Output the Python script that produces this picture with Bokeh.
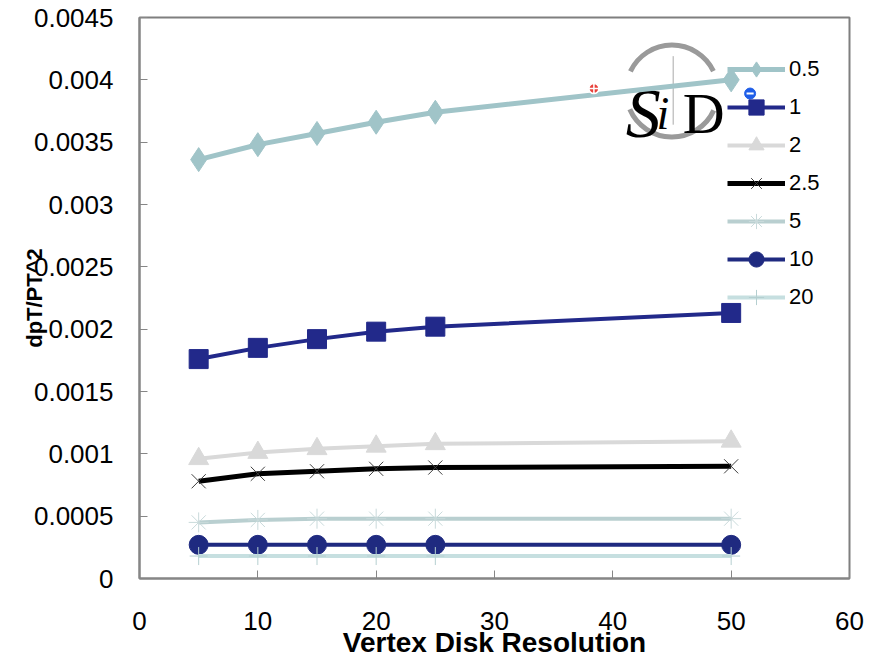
from bokeh.plotting import figure
from bokeh.models import FixedTicker, NumeralTickFormatter, Legend, LegendItem, Range1d
from bokeh.core.properties import value
from bokeh.embed import file_html
from bokeh.resources import INLINE

# ---- data ----
resolution = [5, 10, 15, 20, 25, 50]
series_names = ["0.5", "1", "2", "2.5", "5", "10", "20"]
s_05 = [0.00336, 0.00348, 0.00357, 0.00366, 0.00374, 0.00400]
s_1 = [0.00176, 0.00185, 0.00192, 0.00198, 0.00202, 0.00213]
s_2 = [0.00096, 0.00101, 0.00104, 0.00106, 0.00108, 0.00110]
s_25 = [0.00078, 0.00084, 0.00086, 0.00088, 0.00089, 0.00090]
s_5 = [0.00045, 0.00047, 0.00048, 0.00048, 0.00048, 0.00048]
s_10 = [0.00027, 0.00027, 0.00027, 0.00027, 0.00027, 0.00027]
s_20 = [0.00018, 0.00018, 0.00018, 0.00018, 0.00018, 0.00018]
x_ticks = [0, 10, 20, 30, 40, 50, 60]
y_ticks = [0, 0.0005, 0.001, 0.0015, 0.002, 0.0025, 0.003, 0.0035, 0.004, 0.0045]

p = figure(width=876, height=661, output_backend="svg", toolbar_location=None,
           x_range=Range1d(0, 60), y_range=Range1d(0, 0.0045),
           min_border_left=139, min_border_right=27, min_border_top=17, min_border_bottom=83)
p.background_fill_color = "white"
p.border_fill_color = "white"
p.grid.visible = False
p.outline_line_color = "#7f7f7f"
p.outline_line_width = 2

FONT = "Liberation Sans"

p.xaxis.ticker = FixedTicker(ticks=x_ticks)
p.yaxis.ticker = FixedTicker(ticks=y_ticks)
p.yaxis.formatter = NumeralTickFormatter(format="0.[0000]")
for ax in (p.xaxis, p.yaxis):
    ax.axis_line_color = "#868686"
    ax.axis_line_width = 2
    ax.major_tick_in = 8
    ax.major_tick_out = 0
    ax.major_tick_line_color = "#868686"
    ax.major_tick_line_width = 1
    ax.minor_tick_line_color = None
    ax.major_label_text_color = "black"
    ax.axis_label_text_color = "black"
p.xaxis.major_label_text_font = FONT
p.xaxis.major_label_text_font_size = "26px"
p.xaxis.major_label_standoff = 33
p.xaxis.axis_label = "Vertex Disk Resolution"
p.xaxis.axis_label_text_font = FONT
p.xaxis.axis_label_text_font_style = "bold"
p.xaxis.axis_label_text_font_size = "28px"
p.xaxis.axis_label_standoff = -6
p.yaxis.major_label_text_font = FONT
p.yaxis.major_label_text_font_size = "26px"
p.yaxis.major_label_standoff = 26
p.yaxis.axis_label = "dpT/PT^2"
p.yaxis.axis_label_text_font = FONT
p.yaxis.axis_label_text_font_style = "bold"
p.yaxis.axis_label_text_font_size = "22px"
p.yaxis.axis_label_standoff = -16

# ---- logo decoration (behind data) ----
p.arc(x=[45.0], y=[0.00391], radius=46, radius_units="screen",
      start_angle=0.45, end_angle=2.7, line_color="#9a9a9a", line_width=5)
p.arc(x=[45.0], y=[0.00391], radius=46, radius_units="screen",
      start_angle=3.55, end_angle=5.85, line_color="#9a9a9a", line_width=5)
p.segment(x0=[45.1], y0=[0.00364], x1=[45.1], y1=[0.00419], line_color="#aaaaaa", line_width=1)
p.text(x=[41.1], y=[0.00373], text=["S"], text_font=value("Liberation Serif"),
       text_font_style="italic", text_font_size="70px", text_baseline="alphabetic", text_color="black")
p.text(x=[43.7], y=[0.00373], text=["i"], text_font=value("Liberation Serif"),
       text_font_style="italic", text_font_size="46px", text_baseline="alphabetic", text_color="black")
p.text(x=[45.9], y=[0.00373], text=["D"], text_font=value("Liberation Serif"),
       text_font_size="58px", text_baseline="alphabetic", text_color="black")

# ---- series ----
items = []
styles = [
    (s_05, "#a0c4c8", 5, "diamond", 24, "#a0c4c8", 1),
    (s_1, "#22298a", 4, "square", 19, "#22298a", 1),
    (s_2, "#d9d9d9", 4, "triangle", 20, "#d9d9d9", 1),
    (s_25, "#000000", 5, "x", 20, "#404040", 1),
    (s_5, "#b9cfd0", 4, "asterisk", 20, "#c9dadb", 1),
    (s_10, "#1f2a80", 4, "circle", 19, "#1f2a80", 1),
    (s_20, "#c6dfe0", 4, "cross", 18, "#b5cfd0", 1),
]
for name, (vals, col, lw, mk, ms, mcol, mlw) in zip(series_names, styles):
    r1 = p.line(resolution, vals, line_color=col, line_width=lw)
    r2 = p.scatter(resolution, vals, marker=mk, size=ms, fill_color=mcol,
                   line_color=mcol, line_width=mlw)
    items.append(LegendItem(label=name, renderers=[r1, r2]))

# small logo marks
p.scatter(x=[38.4], y=[0.00393], marker="circle_cross", size=10,
          fill_color="#e8403a", line_color="white", line_width=1.5)
p.scatter(x=[51.6], y=[0.00389], marker="circle", size=11,
          fill_color="#1f5ee8", line_color="#1f5ee8", line_width=1)
p.segment(x0=[51.3], y0=[0.00389], x1=[51.9], y1=[0.00389], line_color="white", line_width=2)

legend = Legend(items=items, location=(588, 262))
legend.background_fill_alpha = 0
legend.border_line_color = None
legend.padding = 0
legend.margin = 0
legend.spacing = 0
legend.glyph_width = 58
legend.glyph_height = 38
legend.label_height = 38
legend.label_standoff = 4
legend.label_text_font = FONT
legend.label_text_font_size = "22px"
legend.label_text_color = "black"
p.add_layout(legend, "center")

open("out.html", "w").write(file_html(p, INLINE))
